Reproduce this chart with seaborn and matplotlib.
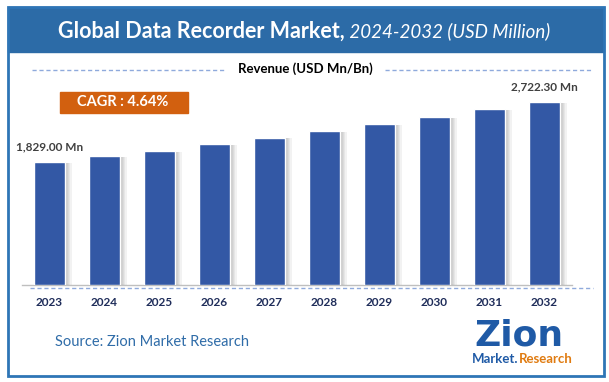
## Global Data Recorder Market - grafico de barras

import numpy as np
import pandas as pd
import seaborn as sns
import matplotlib.pyplot as plt
import matplotlib.patheffects as pe
from matplotlib.patches import Rectangle
from matplotlib.lines import Line2D

## Dados
anos = ['2023', '2024', '2025', '2026', '2027', '2028', '2029', '2030', '2031', '2032']
receita = [1829.0, 1922, 1998, 2092, 2194, 2288, 2398, 2505, 2620, 2722.3]
rotulos = {'2023': '1,829.00 Mn', '2032': '2,722.30 Mn'}
cagr = 'CAGR : 4.64%'
titulo = 'Global Data Recorder Market,'
subtitulo = ' 2024-2032 (USD Million)'

df = pd.DataFrame({'Ano': anos, 'Receita': receita})

## Estilo
sns.set_style('white')
plt.rcParams['font.family'] = ['Lato', 'DejaVu Sans']

W, H = 609, 382
fig = plt.figure(figsize=(W / 100, H / 100), dpi=100)

def fx(px):
    return px / W

def fy(py):
    return 1 - py / H

# Moldura e faixa do titulo
fig.patches.append(Rectangle((fx(8), fy(52)), fx(596), fy(7) - fy(52),
                             transform=fig.transFigure, color='#2C6BA7', zorder=0))
fig.patches.append(Rectangle((fx(8), fy(376)), fx(596), fy(7) - fy(376),
                             transform=fig.transFigure, fill=False,
                             edgecolor='#2E75B6', lw=2, zorder=5))

# Titulo em duas partes
t1 = fig.text(0, fy(31), titulo, color='white', fontsize=15.5,
              fontweight='bold', va='center', ha='left')
t2 = fig.text(0, fy(31), subtitulo, color='white', fontsize=13.5,
              fontstyle='italic', va='center', ha='left')
r = fig.canvas.get_renderer()
w1 = t1.get_window_extent(r).width
w2 = t2.get_window_extent(r).width
x0 = 304 - (w1 + w2) / 2
t1.set_x(fx(x0))
t2.set_x(fx(x0 + w1))

# Linha tracejada superior e legenda
tracejado = dict(color='#8FAADC', lw=1, ls=(0, (3, 2)), transform=fig.transFigure)
fig.lines.append(Line2D([fx(32), fx(226)], [fy(70), fy(70)], **tracejado))
fig.lines.append(Line2D([fx(385), fx(593)], [fy(70), fy(70)], **tracejado))
fig.text(fx(305), fy(69), 'Revenue (USD Mn/Bn)', fontsize=9.5, fontweight='bold',
         color='black', ha='center', va='center')

# CAGR
fig.patches.append(Rectangle((fx(60), fy(113)), fx(128), fy(92) - fy(113),
                             transform=fig.transFigure, color='#D2600F', zorder=1))
fig.text(fx(123), fy(102.5), cagr, fontsize=10.5, fontweight='bold', color='white',
         ha='center', va='center', zorder=2)

## Grafico de barras
ax = fig.add_axes([fx(22), fy(285), fx(550), fy(90) - fy(285)])
sns.barplot(data=df, x='Ano', y='Receita', color='#3358A5', saturation=1,
            width=0.56, ax=ax, zorder=3)

sombra = [pe.SimplePatchShadow(offset=(k, -0.6), shadow_rgbFace='#707070', alpha=0.09)
          for k in (0.8, 1.6, 2.4, 3.2, 4.0, 4.8)]
for barra in ax.patches:
    barra.set_path_effects(sombra + [pe.Normal()])

ax.set_xlim(-0.5, len(anos) - 0.5)
ax.set_ylim(0, 2903)
ax.set_xlabel('')
ax.set_ylabel('')
ax.set_yticks([])
ax.tick_params(axis='x', length=0, pad=9)
for lbl in ax.get_xticklabels():
    lbl.set_fontweight('bold')
    lbl.set_fontsize(8.5)
    lbl.set_color('#1F2D5A')
for lado in ['top', 'right', 'left']:
    ax.spines[lado].set_visible(False)
ax.spines['bottom'].set_color('#BFBFBF')
ax.spines['bottom'].set_linewidth(1)
ax.patch.set_alpha(0)

# Rotulos de valor
for i, ano in enumerate(anos):
    if ano in rotulos:
        ax.annotate(rotulos[ano], (i, receita[i]), xytext=(0, 7),
                    textcoords='offset points', ha='center', va='bottom',
                    fontsize=8.5, fontweight='bold', color='#404040')

# Linha tracejada inferior
fig.lines.append(Line2D([fx(30), fx(593)], [fy(288), fy(288)], **tracejado))

# Fonte
fig.text(fx(55), fy(342), 'Source: Zion Market Research', fontsize=10.5,
         color='#2F6CA8', ha='left', va='center')

# Logo
fig.text(fx(519), fy(335), 'Zion', fontsize=26, fontweight='heavy',
         color='#1F5AA6', ha='center', va='center', family='DejaVu Sans')
m = fig.text(fx(472), fy(359), 'Market.', fontsize=9.5, fontweight='bold',
             color='#1F5AA6', ha='left', va='center')
wm = m.get_window_extent(r).width
fig.text(fx(472 + wm), fy(359), 'Research', fontsize=9.5, fontweight='bold',
         color='#E07B10', ha='left', va='center')

plt.savefig('out.png', dpi=100)
